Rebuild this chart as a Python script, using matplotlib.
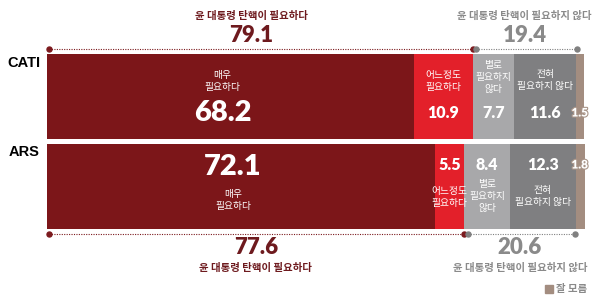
import matplotlib
matplotlib.use("Agg")
import matplotlib.pyplot as plt
import matplotlib.transforms as mtransforms
import matplotlib.patheffects as pe
import numpy as np

categories = ['CATI', 'ARS']
very = [68.2, 72.1]
somewhat = [10.9, 5.5]
notreally = [7.7, 8.4]
notatall = [11.6, 12.3]
dontknow = [1.5, 1.8]
need_total = [79.1, 77.6]
noneed_total = [19.4, 20.6]

seg_labels = ['매우\n필요하다', '어느정도\n필요하다', '별로\n필요하지\n않다', '전혀\n필요하지 않다', '잘 모름']
colors = ['#7c1619', '#e3202a', '#a8a8aa', '#7f7f81', '#a38d80']
need_label = '윤 대통령 탄핵이 필요하다'
noneed_label = '윤 대통령 탄핵이 필요하지 않다'

KR = ['Noto Sans CJK KR', 'DejaVu Sans']
NUM = ['Lato', 'Noto Sans CJK KR', 'DejaVu Sans']
DARK = '#6e1a1e'
GRAY = '#8a8a8a'

W, H = 600, 303
fig = plt.figure(figsize=(6, 3.03), dpi=100)
left_px, right_px = 47, 585
top_px, bot_px = 54, 229
ax = fig.add_axes([left_px / W, 1 - bot_px / H, (right_px - left_px) / W, (bot_px - top_px) / H])

segments = [very, somewhat, notreally, notatall, dontknow]
ypos = np.arange(len(categories))
h = 85 / 91
lefts = np.zeros(len(categories))
for vals, c in zip(segments, colors):
    ax.barh(ypos, vals, left=lefts, height=h, color=c, edgecolor='none')
    lefts = lefts + np.array(vals)

ax.set_xlim(0, 100)
ax.set_ylim(1 + h / 2, -h / 2)
ax.axis('off')

def fy(px):
    return 1 - px / H

tr = mtransforms.blended_transform_factory(ax.transData, fig.transFigure)

# category labels
for lab_, ypx in zip(categories, [63, 152]):
    fig.text(40 / W, fy(ypx), lab_, ha='right', va='center', fontsize=10.5,
             fontweight='bold', family=['Liberation Sans', 'DejaVu Sans'], color='black')

cum0 = np.cumsum([0] + [s[0] for s in segments])
mid0 = [(cum0[i] + cum0[i + 1]) / 2 for i in range(5)]
cum1 = np.cumsum([0] + [s[1] for s in segments])
mid1 = [(cum1[i] + cum1[i + 1]) / 2 for i in range(5)]

def lab(x, ypx, s, ls=1.25):
    plt.text(x, fy(ypx), s, transform=tr, ha='center', va='center',
             fontsize=7, family=KR, color='white', linespacing=ls)

def num(x, ypx, v, size, stroke=False):
    t = plt.text(x, fy(ypx), f'{v}', transform=tr, ha='center', va='center',
                 fontsize=size, fontweight='heavy', family=NUM, color='white')
    if stroke:
        t.set_path_effects([pe.withStroke(linewidth=1.6, foreground='#a89488')])

# CATI
lab(mid0[0] - 1.5, 81, seg_labels[0], 1.35)
num(mid0[0] - 1.5, 113, very[0], 21)
lab(mid0[1], 81, seg_labels[1], 1.35)
num(mid0[1], 113, somewhat[0], 11.5)
lab(mid0[2], 77, seg_labels[2])
num(mid0[2], 113, notreally[0], 11.5)
lab(mid0[3], 80, seg_labels[3])
num(mid0[3], 113, notatall[0], 11.5)
num(99.0, 113, dontknow[0], 8.5, stroke=True)

# ARS
num(mid1[0] - 1.5, 167, very[1], 21)
lab(mid1[0] - 1.5, 200, seg_labels[0], 1.35)
num(mid1[1], 165, somewhat[1], 11.5)
lab(mid1[1], 197, seg_labels[1])
num(mid1[2], 165, notreally[1], 11.5)
lab(mid1[2], 196, seg_labels[2])
num(mid1[3], 165, notatall[1], 11.5)
lab(mid1[3], 196, seg_labels[3])
num(99.0, 165, dontknow[1], 8.5, stroke=True)

# dotted bracket lines
def bracket(ypx, x0, x1, col):
    ax.plot([x0, x1], [fy(ypx)] * 2, transform=tr, color=col, lw=0.8,
            linestyle=(0, (1, 1.2)), clip_on=False)
    ax.plot([x0, x1], [fy(ypx)] * 2, transform=tr, color=col, lw=0,
            marker='o', markersize=3.6, clip_on=False)

bracket(49, 0.4, need_total[0], '#7c1a1e')
bracket(49, need_total[0] + 0.7, need_total[0] + noneed_total[0], '#808080')
bracket(234, 0.4, need_total[1], '#7c1a1e')
bracket(234, need_total[1] + 0.7, need_total[1] + noneed_total[1], '#808080')

def total(x, ypx, v, col):
    plt.text(x, fy(ypx), f'{v}', transform=tr, ha='center', va='center',
             fontsize=16, fontweight='heavy', family=NUM, color=col)

def tlabel(x, ypx, s, col):
    plt.text(x, fy(ypx), s, transform=tr, ha='center', va='center',
             fontsize=7.5, family=KR, color=col, fontweight='bold')

# totals - top
tlabel(38, 16, need_label, DARK)
total(38, 36, need_total[0], DARK)
tlabel(need_total[0] + noneed_total[0] / 2, 16, noneed_label, GRAY)
total(need_total[0] + noneed_total[0] / 2, 36, noneed_total[0], GRAY)

# totals - bottom
total(need_total[1] / 2, 248, need_total[1], DARK)
tlabel(need_total[1] / 2, 268, need_label, DARK)
total(need_total[1] + noneed_total[1] / 2, 248, noneed_total[1], GRAY)
tlabel(need_total[1] + noneed_total[1] / 2, 268, noneed_label, GRAY)

# legend
fig.patches.append(plt.Rectangle((545 / W, fy(293)), 8 / W, 8 / H, transform=fig.transFigure,
                                 color=colors[4], figure=fig))
fig.text(556 / W, fy(289), seg_labels[4], ha='left', va='center', fontsize=7.5,
         family=KR, color=GRAY, fontweight='bold')

fig.savefig('out.png', dpi=100, facecolor='white')
